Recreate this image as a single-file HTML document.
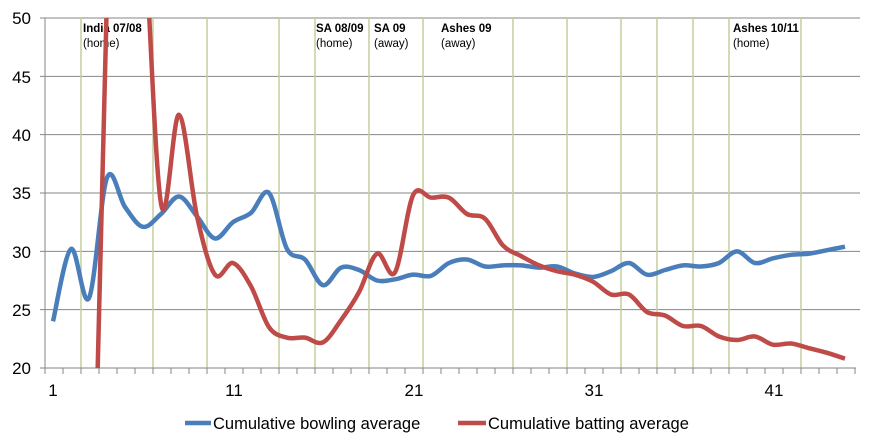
<!DOCTYPE html>
<html><head><meta charset="utf-8"><style>
html,body{margin:0;padding:0;background:#fff;width:871px;height:448px;overflow:hidden;}
svg{display:block;font-family:"Liberation Sans",sans-serif;}
</style></head><body>
<svg id="s" width="871" height="448" viewBox="0 0 871 448" xmlns="http://www.w3.org/2000/svg">
<defs><clipPath id="c"><rect x="45" y="18" width="815" height="350"/></clipPath></defs>
<g id="grid"></g>
<g id="ann" font-size="11.5">
<text x="83" y="32" font-weight="bold">India 07/08</text><text x="83" y="47">(home)</text>
<text x="316" y="32" font-weight="bold">SA 08/09</text><text x="316" y="47">(home)</text>
<text x="374" y="32" font-weight="bold">SA 09</text><text x="374" y="47">(away)</text>
<text x="441" y="32" font-weight="bold">Ashes 09</text><text x="441" y="47">(away)</text>
<text x="733" y="32" font-weight="bold">Ashes 10/11</text><text x="733" y="47">(home)</text>
</g>
<g clip-path="url(#c)">
<path id="blue" fill="none" stroke="#4a7ebb" stroke-width="4.5" stroke-linejoin="round"/>
<path id="red" fill="none" stroke="#be4b48" stroke-width="4.5" stroke-linejoin="round"/>
</g>
<g font-size="17" fill="#000">
<text x="31" y="24" text-anchor="end">50</text>
<text x="31" y="83" text-anchor="end">45</text>
<text x="31" y="141" text-anchor="end">40</text>
<text x="31" y="199" text-anchor="end">35</text>
<text x="31" y="258" text-anchor="end">30</text>
<text x="31" y="316" text-anchor="end">25</text>
<text x="31" y="374" text-anchor="end">20</text>
<text x="53" y="396" text-anchor="middle">1</text>
<text x="234" y="396" text-anchor="middle">11</text>
<text x="414" y="396" text-anchor="middle">21</text>
<text x="594" y="396" text-anchor="middle">31</text>
<text x="774" y="396" text-anchor="middle">41</text>
</g>
<line x1="185" y1="423" x2="211" y2="423" stroke="#4a7ebb" stroke-width="4.5"/>
<text x="213" y="429" font-size="16.5">Cumulative bowling average</text>
<line x1="458" y1="423" x2="486" y2="423" stroke="#be4b48" stroke-width="4.5"/>
<text x="488" y="429" font-size="16.5">Cumulative batting average</text>
</svg>
<script>
var g=document.getElementById('grid'),h='';
function Y(v){return 368-(v-20)*11.667;}
function X(i){return 53+18*(i-1);}
[50,45,40,35,30,25].forEach(function(v){var y=Y(v);h+='<line x1="40" y1="'+y+'" x2="860" y2="'+y+'" stroke="#868686" stroke-width="1"/>';});
[2,6,9,13,15,18,21,26,29,32,34,36,38,42].forEach(function(k){var x=45+18*k;h+='<line x1="'+x+'" y1="18" x2="'+x+'" y2="368" stroke="#c3cf9b" stroke-width="1.5"/>';});
h+='<line x1="45" y1="18" x2="45" y2="368" stroke="#868686"/><line x1="40" y1="368" x2="856" y2="368" stroke="#868686"/>';
for(var k=0;k<=45;k++){var x=45+18*k;h+='<line x1="'+x+'" y1="368" x2="'+x+'" y2="374" stroke="#868686"/>';}
g.innerHTML=h;
function path(vals,start){var p=[];vals.forEach(function(v,j){p.push([X(start+j),Y(v)]);});
var d='M'+p[0][0]+','+p[0][1];
for(var i=0;i<p.length-1;i++){var a=p[i-1]||p[i],b=p[i],c=p[i+1],e=p[i+2]||c;
var c1=[b[0]+(c[0]-a[0])/6,b[1]+(c[1]-a[1])/6],c2=[c[0]-(e[0]-b[0])/6,c[1]-(e[1]-b[1])/6];
d+=' C'+c1[0]+','+c1[1]+' '+c2[0]+','+c2[1]+' '+c[0]+','+c[1];}return d;}
var blue=[24,30.2,26,36.3,33.8,32.1,33.2,34.7,33,31.1,32.5,33.3,35,30.2,29.3,27.1,28.6,28.4,27.5,27.6,28,27.9,29,29.3,28.7,28.8,28.8,28.6,28.7,28.1,27.8,28.3,29,28,28.4,28.8,28.7,29,30,29,29.4,29.7,29.8,30.1,30.4];
var red=[-15,52,80,60,34.1,41.7,33,28,29,27,23.5,22.6,22.6,22.2,24.1,26.5,29.8,28.2,34.8,34.6,34.6,33.2,32.8,30.5,29.6,28.8,28.3,28,27.4,26.3,26.3,24.8,24.5,23.6,23.6,22.7,22.4,22.7,22,22.1,21.7,21.3,20.8];
document.getElementById('blue').setAttribute('d',path(blue,1));
document.getElementById('red').setAttribute('d',path(red,3));
</script>
</body></html>
